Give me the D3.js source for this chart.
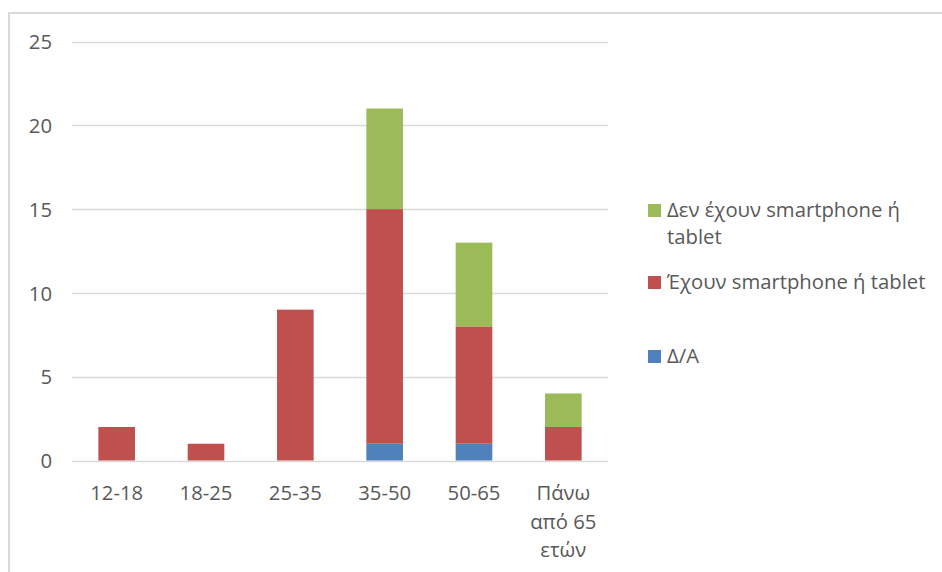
<!DOCTYPE html>
<html>
<head>
<meta charset="utf-8">
<script src="https://cdn.jsdelivr.net/npm/d3@7"></script>
<style>
  html, body { margin: 0; padding: 0; background: #fff; }
  svg { display: block; }
  text { font-family: "Open Sans", "Noto Sans", sans-serif; fill: #595959; }
</style>
</head>
<body>
<svg id="chart" width="942" height="572"></svg>
<script>
// Age groups and respondent counts per answer
const categories = ["12-18", "18-25", "25-35", "35-50", "50-65", "Πάνω από 65 ετών"];
const categoryLines = [["12-18"], ["18-25"], ["25-35"], ["35-50"], ["50-65"], ["Πάνω", "από 65", "ετών"]];
const noAnswer = [0, 0, 0, 1, 1, 0];          // Δ/Α
const haveDevice = [2, 1, 9, 14, 7, 2];       // Έχουν smartphone ή tablet
const noDevice = [0, 0, 0, 6, 5, 2];          // Δεν έχουν smartphone ή tablet
const yTicks = [0, 5, 10, 15, 20, 25];

const seriesNames = ["Δ/Α", "Έχουν smartphone ή tablet", "Δεν έχουν smartphone ή tablet"];
const seriesColors = ["#4F81BD", "#C0504D", "#9BBB59"];
const seriesValues = [noAnswer, haveDevice, noDevice];

const fontSize = 20.3;
const svg = d3.select("#chart");

// outer chart frame
svg.append("rect")
  .attr("x", 9).attr("y", 13)
  .attr("width", 940).attr("height", 570)
  .attr("fill", "none").attr("stroke", "#d9d9d9").attr("stroke-width", 2);

const plot = { left: 72, right: 608, top: 41.5, bottom: 460.5 };

const x = d3.scaleBand()
  .domain(categories)
  .range([plot.left, plot.right])
  .paddingInner(0.59)
  .paddingOuter(0.295);

const y = d3.scaleLinear()
  .domain([0, 25])
  .range([plot.bottom, plot.top]);

// horizontal gridlines
svg.append("g").selectAll("line")
  .data(yTicks)
  .join("line")
  .attr("x1", plot.left).attr("x2", plot.right)
  .attr("y1", d => Math.round(y(d)) + 0.5).attr("y2", d => Math.round(y(d)) + 0.5)
  .attr("stroke", "#d9d9d9").attr("stroke-width", 1.3);

// y axis labels
const yAxis = d3.axisLeft(y).tickValues(yTicks).tickSize(0).tickPadding(0);
const yg = svg.append("g").attr("transform", "translate(52,0)").call(yAxis);
yg.select(".domain").remove();
yg.selectAll("text")
  .attr("font-size", fontSize).attr("font-family", null).attr("fill", "#595959")
  .attr("dy", "0.35em");

// stacked bars
const stackData = categories.map((c, i) => {
  const row = { cat: c };
  seriesNames.forEach((s, k) => row[s] = seriesValues[k][i]);
  return row;
});
const stack = d3.stack().keys(seriesNames)(stackData);

svg.append("g").selectAll("g")
  .data(stack)
  .join("g")
  .attr("fill", (d, k) => seriesColors[k])
  .selectAll("rect")
  .data(d => d.filter(p => p[1] > p[0]))
  .join("rect")
  .attr("x", d => x(d.data.cat))
  .attr("width", x.bandwidth())
  .attr("y", d => y(d[1]))
  .attr("height", d => y(d[0]) - y(d[1]));

// x axis category labels (wrapped)
const xg = svg.append("g");
categories.forEach((c, i) => {
  const t = xg.append("text")
    .attr("x", x(c) + x.bandwidth() / 2)
    .attr("y", 500)
    .attr("text-anchor", "middle")
    .attr("font-size", fontSize);
  categoryLines[i].forEach((line, j) => {
    t.append("tspan")
      .attr("x", x(c) + x.bandwidth() / 2)
      .attr("dy", j === 0 ? 0 : 28.5)
      .text(line);
  });
});

// legend, drawn top-down in reverse stacking order
const legendItems = [
  { k: 2, lines: ["Δεν έχουν smartphone ή", "tablet"], y: 217 },
  { k: 1, lines: ["Έχουν smartphone ή tablet"], y: 289 },
  { k: 0, lines: ["Δ/Α"], y: 363 }
];
const lg = svg.append("g");
legendItems.forEach(item => {
  lg.append("rect")
    .attr("x", 648).attr("y", item.y - 13)
    .attr("width", 13).attr("height", 13)
    .attr("fill", seriesColors[item.k]);
  const t = lg.append("text")
    .attr("x", 667).attr("y", item.y)
    .attr("font-size", fontSize);
  item.lines.forEach((line, j) => {
    t.append("tspan").attr("x", 667).attr("dy", j === 0 ? 0 : 26.5).text(line);
  });
});
</script>
</body>
</html>
